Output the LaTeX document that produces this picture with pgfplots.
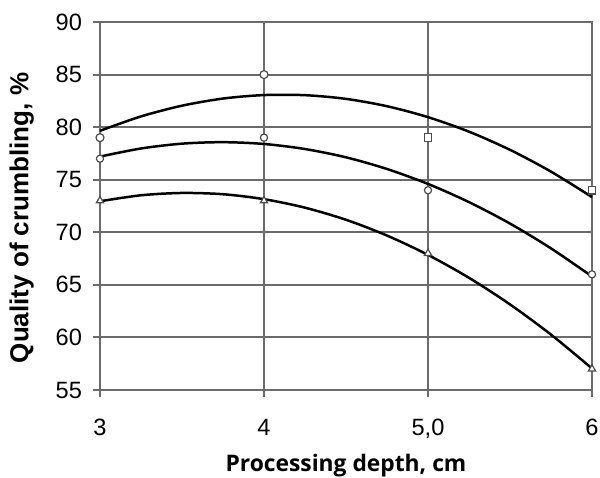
\documentclass[border=0pt]{standalone}
\usepackage{pgfplots}
\pgfplotsset{compat=1.18}
\usepackage{fontspec}
\setmainfont{Liberation Sans}
\newfontfamily\labelfont{Open Sans}

\begin{document}
\begin{tikzpicture}
\begin{axis}[
    name=ax,
    scale only axis,
    width=246pt, height=184pt,
    xmin=3, xmax=6, ymin=55, ymax=90,
    xtick={3,4,5,6},
    xticklabels={3,4,{5,0},6},
    ytick={55,60,...,90},
    grid=major,
    grid style={black!58, line width=1pt},
    axis line style={black!58, line width=1pt},
    tick style={black!58, line width=1pt},
    tick align=center,
    major tick length=7pt,
    xtick pos=bottom, ytick pos=left,
    tick label style={font=\fontsize{11.8}{13}\selectfont},
    /pgf/number format/assume math mode=true,
    xticklabel style={yshift=-7.5pt},
    yticklabel style={xshift=-2pt},
    xlabel={\labelfont\bfseries Processing depth, cm},
    ylabel={\bfseries Quality of crumbling, \%},
    xlabel style={font=\fontsize{11.4}{13}\selectfont, yshift=-1pt},
    ylabel style={font=\fontsize{13}{15}\selectfont, yshift=4pt, xshift=-6pt},
    clip=false,
]
% trend curves
\addplot[black, line width=1.25pt, smooth] coordinates {
 (3,79.65) (3.25,81.02) (3.5,82.04) (3.75,82.72) (4,83.05) (4.25,83.04)
 (4.5,82.69) (4.75,81.99) (5,80.95) (5.25,79.57) (5.5,77.84) (5.75,75.77) (6,73.35)};
\addplot[black, line width=1.25pt, smooth] coordinates {
 (3,77.20) (3.25,77.97) (3.5,78.43) (3.75,78.57) (4,78.40) (4.25,77.92)
 (4.5,77.13) (4.75,76.02) (5,74.60) (5.25,72.87) (5.5,70.83) (5.75,68.47) (6,65.80)};
\addplot[black, line width=1.25pt, smooth] coordinates {
 (3,72.95) (3.25,73.52) (3.5,73.74) (3.75,73.62) (4,73.15) (4.25,72.34)
 (4.5,71.19) (4.75,69.69) (5,67.85) (5.25,65.67) (5.5,63.14) (5.75,60.27) (6,57.05)};
% measured points
\addplot[only marks, mark=*, mark size=2pt, mark options={draw=black!70, fill=white, line width=0.6pt}]
 coordinates {(3,79) (4,85)};
\addplot[only marks, mark=square*, mark size=1.9pt, mark options={draw=black!70, fill=white, line width=0.6pt}]
 coordinates {(5,79) (6,74)};
\addplot[only marks, mark=*, mark size=1.8pt, mark options={draw=black!70, fill=white, line width=0.6pt}]
 coordinates {(3,77) (4,79) (5,74) (6,66)};
\addplot[only marks, mark=triangle*, mark size=2.1pt, mark options={draw=black!70, fill=white, line width=0.6pt}]
 coordinates {(3,73) (4,73) (5,68) (6,57)};
\end{axis}
\pgfresetboundingbox
\path[use as bounding box] ([xshift=-50pt,yshift=-43.5pt]ax.south west) rectangle ([xshift=4pt,yshift=11pt]ax.north east);
\end{tikzpicture}
\end{document}
